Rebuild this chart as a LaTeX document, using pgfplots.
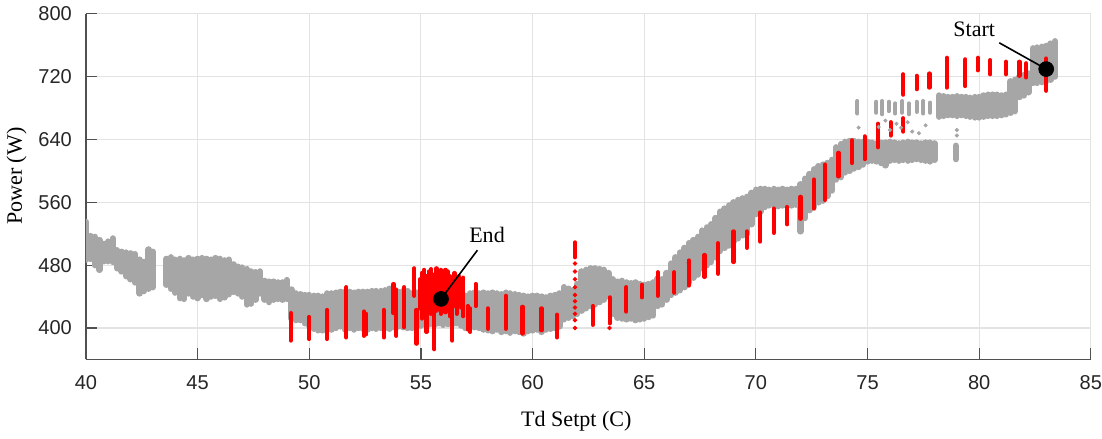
\documentclass[border=0pt]{standalone}
\usepackage{fontspec}
\setmainfont{Liberation Serif}
\newfontfamily\ticksans{Liberation Sans}
\usepackage{pgfplots}
\usepackage{pgfplotstable}
\pgfplotsset{compat=1.18}
\definecolor{cloud}{RGB}{166,166,166}
\definecolor{axgray}{RGB}{80,80,80}

% gray cloud: one vertical stroke per x, from lo to hi
\pgfplotstableread{
x lo hi
40.0 487 535
40.2 488 517
40.4 480 516
40.6 474 512
40.8 485 507
41.0 485 510
41.2 484 514
41.4 476 499
41.6 472 497
41.8 466 496
42.0 462 495
42.2 458 494
42.4 444 487
42.6 447 484
42.8 450 500
43.0 452 497
43.6 455 488
43.8 450 490
44.0 445 487
44.2 438 488
44.4 437 486
44.6 444 489
44.8 440 487
45.0 438 488
45.2 442 489
45.4 437 488
45.6 440 487
45.8 441 489
46.0 437 488
46.2 439 486
46.4 443 487
46.6 446 481
46.8 444 478
47.0 440 477
47.2 430 475
47.4 431 472
47.6 436 471
47.8 444 472
48.0 436 460
48.2 433 459
48.4 436 459
48.6 437 458
48.8 436 458
49.0 437 461
49.2 412 449
49.4 410 444
49.6 410 443
49.8 406 442
50.0 403 442
50.2 399 441
50.4 397 441
50.6 397 440
50.8 400 444
51.0 398 444
51.2 400 445
51.4 402 446
51.6 398 446
51.8 400 446
52.0 398 445
52.2 400 446
52.4 399 446
52.6 398 446
52.8 400 447
53.0 399 447
53.2 400 447
53.4 400 448
53.6 399 450
53.8 401 448
54.0 402 446
54.2 401 447
54.4 400 447
54.6 400 444
54.8 401 445
55.0 403 444
55.2 404 443
55.4 405 444
55.6 404 445
55.8 406 444
56.0 404 443
56.2 405 442
56.4 404 443
56.6 406 444
56.8 403 442
57.0 400 441
57.2 402 444
57.4 401 445
57.6 400 444
57.8 398 445
58.0 397 444
58.2 396 445
58.4 398 444
58.6 395 443
58.8 396 445
59.0 394 444
59.2 396 443
59.4 395 442
59.6 393 441
59.8 396 440
60.0 397 441
60.2 398 441
60.4 395 440
60.6 398 439
60.8 399 441
61.0 400 442
61.2 402 444
61.4 411 452
61.6 413 450
61.8 415 448
62.0 418 456
62.2 422 472
62.4 425 474
62.6 428 476
62.8 430 476
63.0 433 475
63.2 436 474
63.4 440 470
63.6 418 462
63.8 413 459
64.0 412 460
64.2 411 458
64.4 412 457
64.6 410 458
64.8 411 456
65.0 412 455
65.2 414 456
65.4 416 458
65.6 428 463
65.8 430 462
66.0 436 470
66.2 442 482
66.4 445 490
66.6 448 496
66.8 452 502
67.0 458 508
67.2 464 512
67.4 468 516
67.6 476 524
67.8 480 528
68.0 484 532
68.2 490 540
68.4 498 548
68.6 502 552
68.8 505 556
69.0 510 560
69.2 514 563
69.4 518 565
69.6 520 567
69.8 532 572
70.0 545 576
70.2 548 577
70.4 554 577
70.6 556 576
70.8 556 577
71.0 555 576
71.2 556 577
71.4 556 576
71.6 556 577
71.8 557 577
72.0 523 583
72.2 540 590
72.4 550 596
72.6 554 602
72.8 560 606
73.0 562 608
73.2 568 610
73.4 575 614
73.6 589 630
73.8 592 634
74.0 598 637
74.2 600 638
74.4 603 638
74.6 605 637
74.8 608 637
75.0 612 637
75.2 613 636
75.4 612 635
75.6 610 636
75.8 607 636
76.0 613 637
76.2 614 636
76.4 613 635
76.6 614 636
76.8 613 637
77.0 614 636
77.2 615 636
77.4 614 635
77.6 613 636
77.8 612 636
78.0 614 635
78.2 669 696
78.4 670 695
78.6 671 694
78.8 671 694
79.0 670 695
79.2 671 694
79.4 670 694
79.6 669 693
79.8 668 694
80.0 668 694
80.2 669 696
80.4 670 697
80.6 670 697
80.8 670 697
81.0 671 696
81.2 672 697
81.4 674 714
81.6 676 716
81.8 694 720
82.0 696 722
82.2 700 724
82.4 712 756
82.6 712 757
82.8 713 758
83.0 714 759
83.2 716 762
83.4 720 765
78.95 615 632
}\graydata

% sparse gray points above the 75-78 plateau
\pgfplotstableread{
x lo hi
74.55 673 689
75.4 674 688
75.65 672 689
75.95 676 688
76.25 673 686
76.55 674 689
76.85 672 686
77.2 675 688
77.5 673 689
77.8 674 687
}\sparsedata

% red streaks
\pgfplotstableread{
x lo hi
49.17 384 419
50.0 386 414
50.8 386 423
51.66 388 452
52.45 390 421
52.55 392 418
53.34 388 423
53.77 419 456
53.9 390 449
54.25 401 452
54.7 441 476
54.8 380 423
54.95 425 462
55.05 412 470
55.15 430 474
55.25 395 466
55.35 428 472
55.45 418 475
55.55 432 468
55.6 373 440
55.7 422 476
55.8 428 470
55.9 418 474
56.0 430 468
56.1 420 474
56.2 432 472
56.3 415 466
56.4 384 445
56.5 428 470
56.6 418 462
56.7 432 466
56.8 426 458
56.9 415 464
57.1 398 428
57.2 395 425
57.45 428 456
58.0 399 425
58.8 399 441
59.55 393 427
60.4 397 425
61.1 388 417
61.9 490 509
62.7 404 428
63.45 406 439
64.2 421 452
64.9 439 455
65.6 441 471
66.35 445 471
67.0 454 486
67.7 465 493
68.3 469 508
69.0 484 523
69.6 502 523
70.2 510 547
70.8 521 552
71.4 532 554
72.0 539 567
72.6 552 589
73.1 563 608
73.7 593 623
74.3 610 639
74.87 615 644
75.47 630 660
76.04 645 662
76.6 650 667
76.6 697 723
77.2 704 721
77.77 706 724
78.55 706 744
79.38 708 742
79.94 728 744
80.5 723 741
81.2 723 739
81.8 721 739
82.1 719 737
83.0 702 743
}\reddata

\begin{document}
\begin{tikzpicture}
\begin{axis}[
    scale only axis,
    width=501.5pt, height=172.5pt,
    xmin=40, xmax=85, ymin=360, ymax=800,
    xtick={40,45,...,85}, ytick={400,480,...,800},
    axis x line=bottom, axis y line=left,
    axis line style={-, axgray, line width=0.6pt},
    tick align=inside, major tick length=5.5pt,
    tick style={axgray, line width=0.6pt},
    grid=major, major grid style={black!11, line width=0.5pt},
    /pgf/number format/assume math mode=true,
    ticklabel style={font=\ticksans\fontsize{10}{12}\selectfont, text=black!85},
    xticklabel style={yshift=-4.5pt, inner xsep=0pt},
    yticklabel style={xshift=-3.5pt},
    label style={font=\fontsize{11}{13}\selectfont},
    xlabel style={at={(ticklabel cs:0.488)}, yshift=-4pt},
    ylabel style={at={(ticklabel cs:0.53)}, yshift=-1pt},
    xlabel={Td Setpt (C)}, ylabel={Power (W)},
]
\addplot[draw=none, mark=none, forget plot,
    error bars/.cd, y dir=plus, y explicit, error mark=none,
    error bar style={draw=cloud, line width=3.2pt, line cap=round}]
    table[x=x, y=lo, y error expr=\thisrow{hi}-\thisrow{lo}] {\graydata};
\addplot[draw=none, mark=none, forget plot,
    error bars/.cd, y dir=plus, y explicit, error mark=none,
    error bar style={draw=cloud, line width=2pt, line cap=round}]
    table[x=x, y=lo, y error expr=\thisrow{hi}-\thisrow{lo}] {\sparsedata};
\addplot[only marks, mark=*, mark size=0.8pt, cloud, forget plot] coordinates {
    (74.6,655) (75.5,656) (76.0,652) (76.3,660) (76.5,655) (77.0,650)
    (77.3,648) (76.8,662) (79.0,652) (79.0,645) (75.8,664) (77.6,658)};
\addplot[draw=none, mark=none, forget plot,
    error bars/.cd, y dir=plus, y explicit, error mark=none,
    error bar style={draw=red, line width=2.1pt, line cap=round}]
    table[x=x, y=lo, y error expr=\thisrow{hi}-\thisrow{lo}] {\reddata};
\addplot[only marks, mark=*, mark size=0.9pt, red, forget plot] coordinates {
    (61.9,400) (61.9,410) (61.9,418) (61.9,426) (61.9,434) (61.9,442)
    (61.9,452) (61.9,462) (61.9,472) (61.9,482) (63.45,400) (67.0,483)};
\draw[black, line width=0.8pt] (axis cs:80.9,763) -- (axis cs:83,729.6);
\draw[black, line width=0.8pt] (axis cs:57.53,499) -- (axis cs:55.9,437);
\addplot[only marks, mark=*, mark size=3.7pt, black] coordinates {(83,729.6) (55.9,437)};
\node[font=\fontsize{11}{13}\selectfont] at (axis cs:79.78,780) {Start};
\node[font=\fontsize{11}{13}\selectfont] at (axis cs:57.96,518) {End};
\end{axis}
\end{tikzpicture}
\end{document}
